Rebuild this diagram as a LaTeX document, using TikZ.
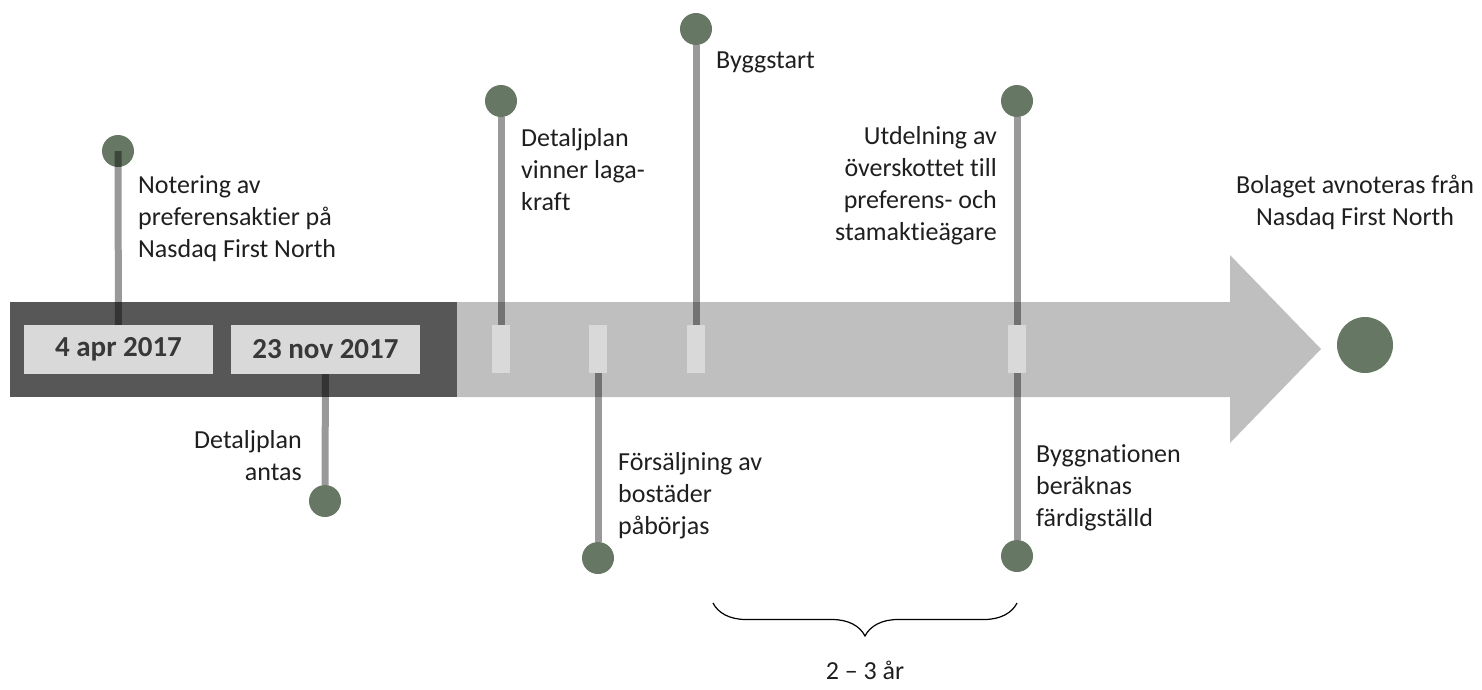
\documentclass[tikz,border=0pt]{standalone}
\usepackage{fontspec}
\setmainfont[Ligatures=NoCommon]{Carlito}
\usetikzlibrary{decorations.pathreplacing}
\definecolor{dotgreen}{HTML}{667763}
\definecolor{bardark}{HTML}{575757}
\definecolor{barlight}{HTML}{BFBFBF}
\definecolor{tickgray}{HTML}{D9D9D9}
\begin{document}
\begin{tikzpicture}[x=1pt, y=-1pt,
        dot/.style={circle, fill=dotgreen, minimum size=32pt, inner sep=0pt},
        tickbox/.style={rectangle, fill=tickgray, minimum width=18pt, minimum height=48pt, inner sep=0pt},
        datebox/.style={rectangle, fill=tickgray, minimum width=189pt, minimum height=49pt, inner sep=0pt, font=\fontsize{29}{32}\selectfont\bfseries, text=black!78},
        stem/.style={line width=7pt, black, opacity=0.4},
        lbl/.style={inner sep=0pt, font=\fontsize{26}{32}\selectfont, text=black!88}
    ]
    \useasboundingbox (0,0) rectangle (1482,689);
    % the time bar
    \fill[barlight] (457,302) -- (1230,302) -- (1230,255) -- (1321,349) -- (1230,443) -- (1230,397) -- (457,397) -- cycle;
    \fill[bardark] (10,302) rectangle (457,397);
    \node[datebox] (d1) at (118.5,349.5) {4 apr 2017};
    \node[datebox] (d2) at (325.5,349.5) {23 nov 2017};
    \node[tickbox] (t1) at (501,349) {};
    \node[tickbox] (t2) at (598,349) {};
    \node[tickbox] (t3) at (696,349) {};
    \node[tickbox] (t4) at (1017,349) {};
    % milestones
    \node[dot] (c1) at (118,151) {};
    \node[dot] (c2) at (325,501) {};
    \node[dot] (c3) at (501,101) {};
    \node[dot] (c4) at (598,558) {};
    \node[dot] (c5) at (696,29) {};
    \node[dot] (c6) at (1017,101) {};
    \node[dot] (c7) at (1017,556) {};
    \node[dot, minimum size=56pt] (cend) at (1365,345) {};
    \draw[stem] (c1.center) -- (d1);
    \draw[stem] (d2) -- (c2);
    \draw[stem] (c3) -- (t1);
    \draw[stem] (t2) -- (c4);
    \draw[stem] (c5) -- (t3);
    \draw[stem] (c6) -- (t4);
    \draw[stem] (t4) -- (c7);
    % labels
    \node[lbl, anchor=north west, align=left] (l1) at (138,170.6) {\strut Notering av\\preferensaktier på\\Nasdaq First North};
    \node[lbl, anchor=north east, align=right] (l2) at (302,425.6) {\strut Detaljplan\\antas};
    \node[lbl, anchor=north west, align=left] (l3) at (521,123.6) {\strut Detaljplan\\vinner laga-\\kraft};
    \node[lbl, anchor=north west, align=left] (l4) at (618,447.6) {\strut Försäljning av\\bostäder\\påbörjas};
    \node[lbl, anchor=north west] (l5) at (716,45.6) {\strut Byggstart};
    \node[lbl, anchor=north east, align=right] (l6) at (997,121.6) {\strut Utdelning av\\överskottet till\\preferens- och\\stamaktieägare};
    \node[lbl, anchor=north west, align=left] (l7) at (1036,439.6) {\strut Byggnationen\\beräknas\\färdigställd};
    \node[lbl, anchor=north, align=center] (l8) at (1355,170.6) {\strut Bolaget avnoteras från\\Nasdaq First North};
    % duration brace
    \coordinate (bl) at (713,603);
    \coordinate (br) at (1017,603);
    \draw[line width=1.2pt, decorate, decoration={brace, mirror, amplitude=33pt}] (bl) -- (br);
    \node[lbl, anchor=north] (dur) at (865,656.6) {\strut 2 – 3 år};
\end{tikzpicture}
\end{document}
